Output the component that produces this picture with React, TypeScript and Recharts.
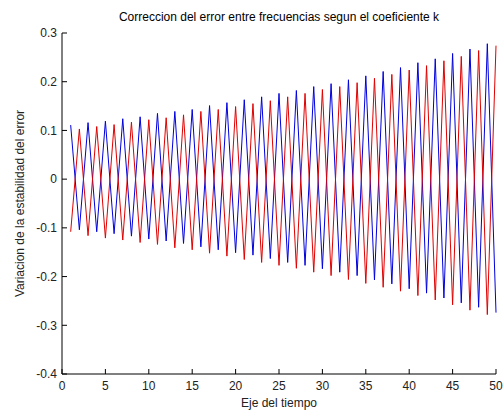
import { LineChart, Line, XAxis, YAxis, Label } from 'recharts';

const timeSteps = [
  1, 2, 3, 4, 5, 6, 7, 8, 9, 10,
  11, 12, 13, 14, 15, 16, 17, 18, 19, 20,
  21, 22, 23, 24, 25, 26, 27, 28, 29, 30,
  31, 32, 33, 34, 35, 36, 37, 38, 39, 40,
  41, 42, 43, 44, 45, 46, 47, 48, 49, 50,
];

// blue trace (peaks on odd steps)
const blueValues = [
  0.111, -0.104, 0.116, -0.108, 0.119, -0.112, 0.124, -0.117, 0.128, -0.123,
  0.135, -0.127, 0.139, -0.132, 0.143, -0.139, 0.151, -0.145, 0.157, -0.151,
  0.163, -0.156, 0.169, -0.163, 0.176, -0.171, 0.182, -0.177, 0.19, -0.184,
  0.196, -0.191, 0.204, -0.198, 0.212, -0.207, 0.221, -0.215, 0.229, -0.225,
  0.239, -0.234, 0.247, -0.244, 0.258, -0.254, 0.267, -0.263, 0.278, -0.274,
];

// red trace (peaks on even steps)
const redValues = [
  -0.108, 0.103, -0.116, 0.108, -0.121, 0.112, -0.125, 0.117, -0.13, 0.122,
  -0.134, 0.126, -0.141, 0.132, -0.145, 0.139, -0.152, 0.143, -0.158, 0.149,
  -0.165, 0.155, -0.171, 0.161, -0.177, 0.169, -0.183, 0.176, -0.191, 0.184,
  -0.198, 0.19, -0.206, 0.198, -0.214, 0.207, -0.222, 0.215, -0.23, 0.224,
  -0.239, 0.233, -0.248, 0.243, -0.258, 0.252, -0.269, 0.264, -0.278, 0.274,
];

const xTicks = [0, 5, 10, 15, 20, 25, 30, 35, 40, 45, 50];
const yTicks = [-0.4, -0.3, -0.2, -0.1, 0, 0.1, 0.2, 0.3];

const FONT = '"Liberation Sans", Arial, Helvetica, sans-serif';

export default function App() {
  const data = timeSteps.map((t, i) => ({ t, blue: blueValues[i], red: redValues[i] }));

  return (
    <div style={{ position: 'absolute', left: 0, top: 0, width: 503, height: 412, background: '#fff', fontFamily: FONT }}>
      <div
        style={{
          position: 'absolute', left: 62, top: 10, width: 434,
          textAlign: 'center', fontSize: 12, lineHeight: '14px', color: '#000',
        }}
      >
        Correccion del error entre frecuencias segun el coeficiente k
      </div>
      <LineChart
        width={503}
        height={412}
        data={data}
        margin={{ top: 33, right: 7, left: 8, bottom: 4 }}
        style={{ fontFamily: FONT }}
      >
        <XAxis
          dataKey="t"
          type="number"
          domain={[0, 50]}
          ticks={xTicks}
          interval={0}
          height={34}
          tickSize={-5}
          tickMargin={12}
          stroke="#000"
          tick={{ fill: '#222', fontSize: 12 }}
        >
          <Label value="Eje del tiempo" position="insideBottom" offset={1} style={{ fill: '#222', fontSize: 12 }} />
        </XAxis>
        <YAxis
          type="number"
          domain={[-0.4, 0.3]}
          ticks={yTicks}
          interval={0}
          width={54}
          tickSize={-5}
          tickMargin={10}
          stroke="#000"
          tick={{ fill: '#222', fontSize: 12 }}
        >
          <Label
            value="Variacion de la estabilidad del error"
            angle={-90}
            position="insideLeft"
            offset={12}
            style={{ fill: '#222', fontSize: 12, textAnchor: 'middle' }}
          />
        </YAxis>
        <Line type="linear" dataKey="blue" stroke="#0000dd" strokeWidth={1} dot={false} isAnimationActive={false} />
        <Line type="linear" dataKey="red" stroke="#e00000" strokeWidth={1} dot={false} isAnimationActive={false} />
      </LineChart>
    </div>
  );
}
